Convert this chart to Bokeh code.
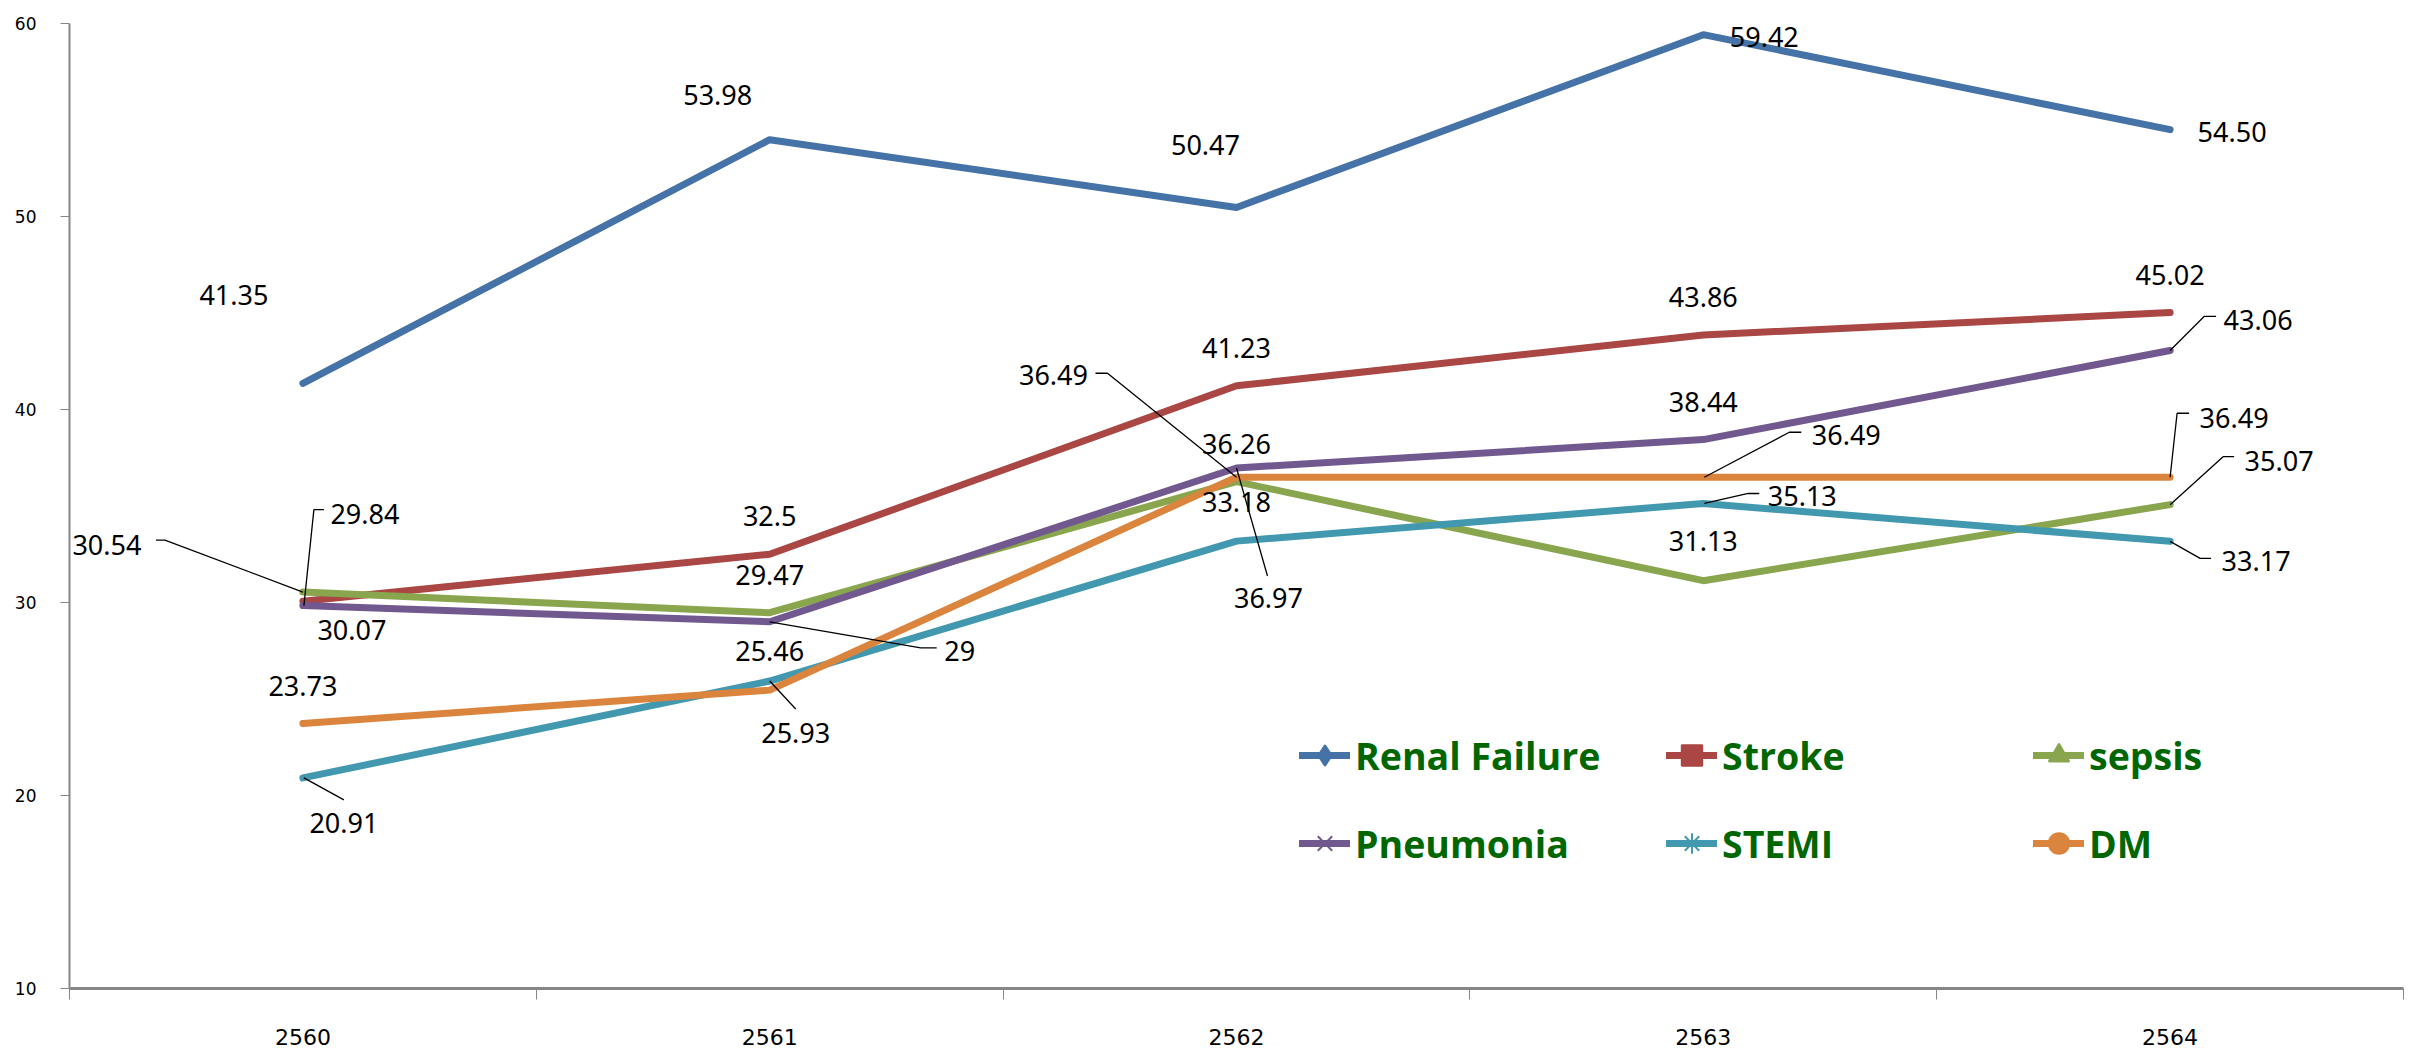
from bokeh.plotting import figure
from bokeh.models import (ColumnDataSource, Range1d, FixedTicker, Legend, LegendItem, LabelSet)
from bokeh.core.properties import value
from bokeh.embed import file_html
from bokeh.resources import INLINE

# ---------------- data ----------------
years = ["2560", "2561", "2562", "2563", "2564"]
series_names = ["Renal Failure", "Stroke", "sepsis", "Pneumonia", "STEMI", "DM"]
renal_failure = [41.35, 53.98, 50.47, 59.42, 54.50]
stroke = [30.07, 32.5, 41.23, 43.86, 45.02]
sepsis = [30.54, 29.47, 36.26, 31.13, 35.07]
pneumonia = [29.84, 29, 36.97, 38.44, 43.06]
stemi = [20.91, 25.93, 33.18, 35.13, 33.17]
dm = [23.73, 25.46, 36.49, 36.49, 36.49]
y_ticks = [10, 20, 30, 40, 50, 60]

series_values = [renal_failure, stroke, sepsis, pneumonia, stemi, dm]

# ---------------- styles ----------------
colors = ["#4572A7", "#AA4643", "#89A54E", "#71588F", "#4198AF", "#DB843D"]
markers = ["diamond", "square", "triangle", "x", "asterisk", "circle"]
label_formats = ["{:.2f}", "{:g}", "{:g}", "{:g}", "{:g}", "{:g}"]

# label placement (screen px offsets from the point: dx right, dy down)
label_offsets = [
    [(-69, -90), (-52, -47), (-31, -64), (61, 0), (62, 0)],
    [(49, 27), (0, -40), (0, -40), (0, -40), (0, -40)],
    [(-196, -49), (0, -40), (0, -40), (0, -42), (109, -46)],
    [(62, -94), (190, 27), (32, 128), (0, -40), (88, -32)],
    [(41, 43), (26, 50), (0, -41), (99, -9), (86, 18)],
    [(0, -40), (0, -41), (-183, -104), (143, -44), (64, -61)],
]
# leader lines (screen px offsets from the point)
leaders = {
    (2, 0): [(0, 0), (-138, -52), (-147, -52)],
    (3, 0): [(1, 0), (11, -96), (21, -96)],
    (4, 0): [(1, 0), (41, 22)],
    (4, 1): [(0, 0), (26, 28)],
    (3, 1): [(0, 0), (151, 26), (167, 26)],
    (5, 2): [(0, 0), (-129, -104), (-141, -104)],
    (3, 2): [(0, 0), (31, 108)],
    (5, 3): [(1, 0), (86, -45), (98, -45)],
    (4, 3): [(1, 0), (45, -10), (56, -10)],
    (3, 4): [(0, 0), (34, -34), (46, -34)],
    (5, 4): [(0, 0), (7, -64), (19, -64)],
    (2, 4): [(0, 0), (53, -48), (64, -48)],
    (4, 4): [(0, 0), (30, 17), (41, 17)],
}

# ---------------- geometry ----------------
W, H = 2414, 1050
BL, BR, BT, BB = 69, 11, 23, 62
FW = W - BL - BR
FH = H - BT - BB
X0, X1 = 0, len(years)
Y0, Y1 = y_ticks[0], y_ticks[-1]
PX = FW / (X1 - X0)
PY = FH / (Y1 - Y0)

xpos = [i + 0.5 for i in range(len(years))]

p = figure(width=W, height=H, x_range=Range1d(X0, X1), y_range=Range1d(Y0, Y1),
           min_border_left=BL, min_border_right=BR, min_border_top=BT, min_border_bottom=BB,
           output_backend="svg", toolbar_location=None)
p.xgrid.visible = False
p.ygrid.visible = False
p.outline_line_color = None
p.background_fill_color = "white"
p.border_fill_color = "white"

axis_gray = "#868686"
# x axis: labels at category centres, tick marks at category boundaries
p.xaxis.ticker = FixedTicker(ticks=xpos, minor_ticks=list(range(X0, X1 + 1)))
p.xaxis.major_label_overrides = {x: t for x, t in zip(xpos, years)}
p.xaxis.major_tick_out = 0
p.xaxis.major_tick_in = 0
p.xaxis.major_tick_line_color = None
p.xaxis.minor_tick_out = 11
p.xaxis.minor_tick_in = 0
p.xaxis.minor_tick_line_color = axis_gray
p.xaxis.minor_tick_line_width = 1
p.xaxis.axis_line_color = axis_gray
p.xaxis.axis_line_width = 3
p.xaxis.major_label_standoff = 29
p.xaxis.major_label_text_font = "DejaVu Sans"
p.xaxis.major_label_text_font_size = "22px"
p.xaxis.major_label_text_color = "black"

p.yaxis.ticker = FixedTicker(ticks=y_ticks)
p.yaxis.major_tick_out = 9
p.yaxis.major_tick_in = 0
p.yaxis.minor_tick_line_color = None
p.yaxis.major_tick_line_color = axis_gray
p.yaxis.axis_line_color = axis_gray
p.yaxis.axis_line_width = 2
p.yaxis.major_label_standoff = 24
p.yaxis.major_label_text_font = "DejaVu Sans"
p.yaxis.major_label_text_font_size = "17px"
p.yaxis.major_label_text_color = "black"

legend_items = []
lab_x, lab_y, lab_t = [], [], []
lead_xs, lead_ys = [], []
for s, (name, vals, c, m, fmt) in enumerate(zip(series_names, series_values, colors, markers, label_formats)):
    lr = p.line(xpos, vals, line_width=7, line_color=c, line_cap="round", line_join="round")
    sr = p.scatter(xpos, vals, marker=m, size=3, fill_color=c, line_color=c, line_width=2)
    legend_items.append(LegendItem(label=name, renderers=[lr, sr]))
    for i, v in enumerate(vals):
        dx, dy = label_offsets[s][i]
        lab_x.append(xpos[i] + dx / PX)
        lab_y.append(v - (dy + 2) / PY)
        lab_t.append(fmt.format(v))
        if (s, i) in leaders:
            pts = leaders[(s, i)]
            lead_xs.append([xpos[i] + a / PX for a, b in pts])
            lead_ys.append([v - b / PY for a, b in pts])

p.multi_line(lead_xs, lead_ys, line_color="black", line_width=1.3)

lsrc = ColumnDataSource(dict(x=lab_x, y=lab_y, text=lab_t))
p.add_layout(LabelSet(x="x", y="y", text="text", source=lsrc,
                      text_align="center", text_baseline="middle",
                      text_font=value("Noto Sans"), text_font_size=value("27px"),
                      text_color="black"))

legend = Legend(items=legend_items, location=(1230, 101), ncols=3, orientation="horizontal",
                glyph_width=51, glyph_height=88, label_width=311, label_height=66,
                label_standoff=5, spacing=0, padding=0, margin=0,
                border_line_color=None, background_fill_alpha=0,
                label_text_font="Open Sans", label_text_font_size="37.5px",
                label_text_font_style="bold", label_text_color="#006600")
p.add_layout(legend)

open("out.html", "w").write(file_html(p, INLINE))
